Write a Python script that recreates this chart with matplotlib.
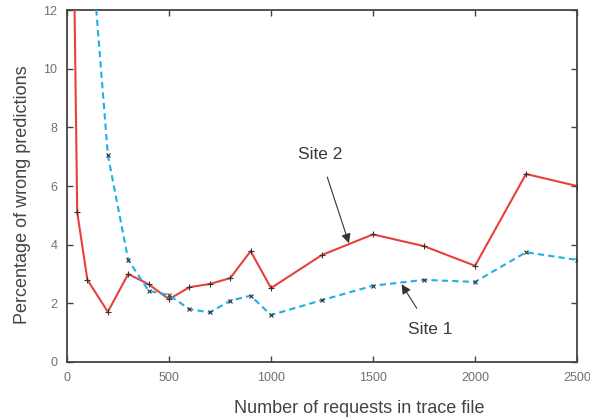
import numpy as np
from matplotlib import pyplot as plt

plt.rcParams['font.family'] = ['Liberation Sans', 'DejaVu Sans']

# Site 2 (red, solid)
x_site2 = [20, 50, 100, 200, 300, 400, 500, 600, 700, 800, 900, 1000, 1250, 1500, 1750, 2000, 2250, 2500]
y_site2 = [21.0, 5.1, 2.8, 1.71, 3.0, 2.65, 2.14, 2.55, 2.66, 2.86, 3.78, 2.52, 3.65, 4.35, 3.95, 3.28, 6.41, 6.0]

# Site 1 (blue, dashed)
x_site1 = [100, 200, 300, 400, 500, 600, 700, 800, 900, 1000, 1250, 1500, 1750, 2000, 2250, 2500]
y_site1 = [15.8, 7.06, 3.48, 2.43, 2.28, 1.80, 1.69, 2.09, 2.26, 1.60, 2.11, 2.60, 2.80, 2.73, 3.74, 3.48]

xticks = [0, 500, 1000, 1500, 2000, 2500]
yticks = [0, 2, 4, 6, 8, 10, 12]

fig = plt.figure(figsize=(5.9, 4.18), dpi=100)
ax = fig.add_axes([0.1136, 0.134, 0.8644, 0.842])

ax.plot(x_site2, y_site2, color='#e8413c', lw=1.5, marker='+', ms=4,
        mec='#333333', mew=0.8, zorder=3)
ax.plot(x_site1, y_site1, color='#1ab0e8', lw=1.5, ls=(0, (3, 2)), marker='x', ms=3.5,
        mec='#333333', mew=0.8, zorder=3)

ax.annotate('Site 2', xy=(1382, 4.05), xytext=(1240, 7.06), ha='center', va='center',
            fontsize=12.5, color='#3a3a3a',
            arrowprops=dict(arrowstyle='-|>', color='#333333', lw=0.8,
                            shrinkA=9, shrinkB=0, mutation_scale=14))
ax.annotate('Site 1', xy=(1640, 2.65), xytext=(1779, 1.12), ha='center', va='center',
            fontsize=12.5, color='#3a3a3a',
            arrowprops=dict(arrowstyle='-|>', color='#333333', lw=0.8,
                            shrinkA=9, shrinkB=0, mutation_scale=14))

ax.set_xlim(0, 2500)
ax.set_ylim(0, 12)
ax.set_xticks(xticks)
ax.set_yticks(yticks)
ax.tick_params(direction='in', length=4, width=1, colors='#444444', labelcolor='#707070',
               labelsize=9, top=True, right=True, pad=7)
for s in ax.spines.values():
    s.set_color('#444444')
    s.set_linewidth(1.3)

ax.set_xlabel('Number of requests in trace file', fontsize=13, color='#444444')
ax.set_ylabel('Percentage of wrong predictions', fontsize=13, color='#444444')
ax.xaxis.set_label_coords(0.573, -0.108)
ax.yaxis.set_label_coords(-0.07, 0.474)

plt.savefig('out.png', dpi=100)
